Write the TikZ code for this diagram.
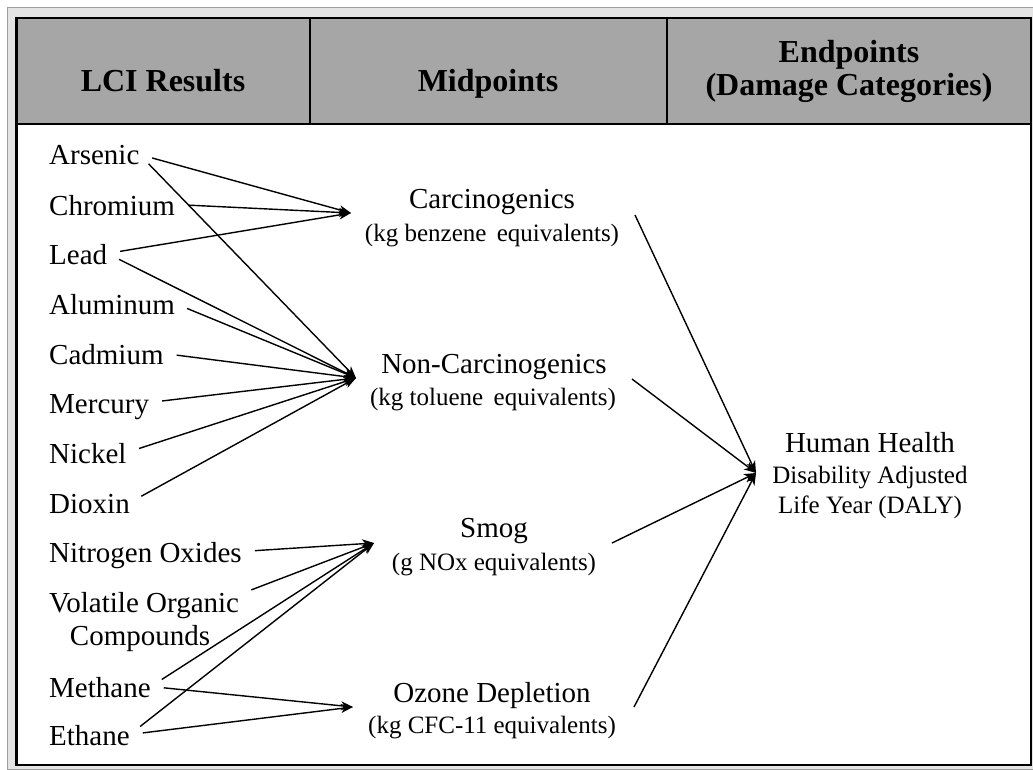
\documentclass[tikz,border=0pt]{standalone}
\usepackage{fontspec}
\setmainfont{Liberation Serif}
\usetikzlibrary{arrows.meta}
\definecolor{headgray}{HTML}{A6A6A6}
\definecolor{framegray}{HTML}{E4E4E4}
\definecolor{frameline}{HTML}{A0A0A0}
\begin{document}
\begin{tikzpicture}[x=1pt,y=-1pt,
  item/.style={anchor=base west, inner sep=0pt, text height=21pt, text depth=0pt,
    font=\fontsize{29}{33}\selectfont},
  mid/.style={anchor=base, inner sep=0pt, font=\fontsize{29}{33}\selectfont},
  unit/.style={anchor=base, inner sep=0pt, font=\fontsize{25}{30}\selectfont},
  head/.style={anchor=base, inner sep=0pt, font=\fontsize{32}{36}\selectfont\bfseries},
  tip/.style={-{Stealth[length=12pt,width=9pt,inset=3.5pt]}},
  link/.style={line width=1.4pt, shorten <=13pt, tip},
  feed/.style={line width=1.4pt, tip}
]
\useasboundingbox (0,0) rectangle (1033,770);

% outer frame and table body
\fill[white] (0,0) rectangle (1033,770);
\draw[frameline, fill=framegray, line width=1pt] (7,7.5) rectangle (1040,769);
\draw[black, fill=white, line width=2.4pt] (16.5,18) rectangle (1031,765);

% header row
\draw[black, fill=headgray, line width=2.4pt] (16.5,18) rectangle (1031,124);
\draw[black, line width=2.4pt] (310,18) -- (310,124);
\draw[black, line width=2.4pt] (667,18) -- (667,124);
\node[head] (hLCI) at (163,92) {LCI Results};
\node[head] (hMid) at (488,92) {Midpoints};
\node[head] (hEnd) at (849,63) {Endpoints};
\node[head] (hDam) at (849,96) {(Damage Categories)};

% inventory results
\node[item] (ars) at (49,165) {Arsenic};
\node[item] (chr) at (49,215) {Chromium};
\node[item] (lea) at (49,264) {Lead};
\node[item] (alu) at (49,314) {Aluminum};
\node[item] (cad) at (49,364) {Cadmium};
\node[item] (mer) at (49,413) {Mercury};
\node[item] (nic) at (49,463) {Nickel};
\node[item] (dio) at (49,513) {Dioxin};
\node[item] (nox) at (49,562) {Nitrogen Oxides};
\node[item] (voc) at (49,612) {Volatile Organic};
\node[item, anchor=base] (voc2) at (140,645) {Compounds};
\node[item] (met) at (49,697) {Methane};
\node[item] (eth) at (49,745) {Ethane};

% midpoint categories
\node[mid] (carc) at (492,209) {Carcinogenics};
\node[unit] (carcU) at (492,241) {(kg benzene\, equivalents)};
\node[mid] (ncarc) at (494,373) {Non-Carcinogenics};
\node[unit] (ncarcU) at (493,405) {(kg toluene\, equivalents)};
\node[mid] (smog) at (494,537) {Smog};
\node[unit] (smogU) at (494,570) {(g NOx equivalents)};
\node[mid] (ozon) at (492,702) {Ozone Depletion};
\node[unit] (ozonU) at (492,733) {(kg CFC-11 equivalents)};

% endpoint
\node[mid] (hh) at (870,452) {Human Health};
\node[unit] (hh2) at (870,483) {Disability Adjusted};
\node[unit] (hh3) at (870,513) {Life Year (DALY)};

% arrow targets and sources
\coordinate (carcIn) at (351,213);
\coordinate (ncarcIn) at (356,378);
\coordinate (smogIn) at (374,543);
\coordinate (ozonIn) at (353,707);
\coordinate (carcOut) at (635,215);
\coordinate (ncarcOut) at (632,379);
\coordinate (smogOut) at (612,543);
\coordinate (ozonOut) at (634,707);
\coordinate (hhIn) at (756,473);

% inventory -> midpoints
\draw[link] (ars.east) -- (carcIn);
\draw[link] (chr.east) -- (carcIn);
\draw[link] (lea.east) -- (carcIn);
\draw[link] (ars.east) -- (ncarcIn);
\draw[link] (lea.east) -- (ncarcIn);
\draw[link] (alu.east) -- (ncarcIn);
\draw[link] (cad.east) -- (ncarcIn);
\draw[link] (mer.east) -- (ncarcIn);
\draw[link] (nic.east) -- (ncarcIn);
\draw[link] (dio.east) -- (ncarcIn);
\draw[link] (nox.east) -- (smogIn);
\draw[link] ([yshift=7pt]voc.east) -- (smogIn);
\draw[link] (met.east) -- (smogIn);
\draw[link] (eth.east) -- (smogIn);
\draw[link] (met.east) -- (ozonIn);
\draw[link] (eth.east) -- (ozonIn);

% midpoints -> endpoint
\draw[feed] (carcOut) -- (hhIn);
\draw[feed] (ncarcOut) -- (hhIn);
\draw[feed] (smogOut) -- (hhIn);
\draw[feed] (ozonOut) -- (hhIn);
\end{tikzpicture}
\end{document}
